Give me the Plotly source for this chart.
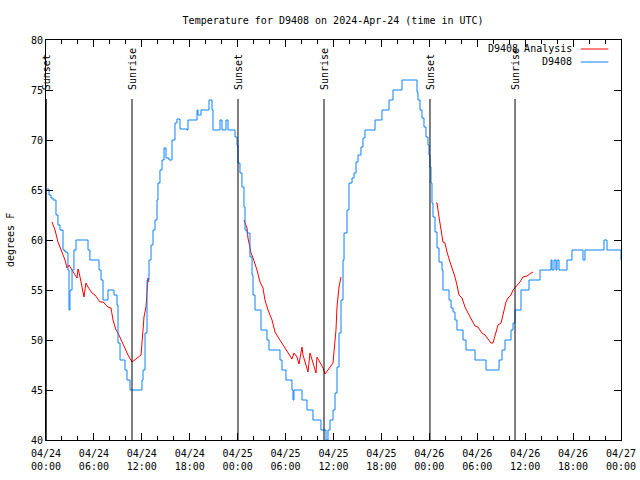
import pandas as pd
import plotly.graph_objects as go

BASE = pd.Timestamp("2024-04-24 00:00")

# D9408 observations: hours since 2024-04-24 00:00 UTC, temperature (F)
obs_hours = [0.13, 0.38, 0.63, 0.88, 1.25, 1.5, 1.75, 2.13, 2.38, 2.63, 2.75, 2.88, 3.0, 3.26, 3.5, 3.76,
             5.0, 5.26, 5.5, 6.39, 6.64, 6.89, 7.14, 7.51, 7.76, 8.26, 8.51, 8.89, 9.02, 9.27, 9.52, 9.89,
             10.14, 10.52, 11.77, 12.02, 12.15, 12.4, 12.65, 12.9, 13.15, 13.4, 13.65, 13.9, 14.02, 14.27,
             14.53, 14.78, 15.03, 15.4, 15.78, 16.15, 16.4, 16.78, 17.66, 17.78, 18.66, 18.91, 19.03, 19.41,
             20.16, 20.41, 20.79, 20.91, 21.54, 21.79, 22.04, 22.29, 22.54, 22.79, 23.42, 23.67, 23.92,
             24.04, 24.29, 24.54, 24.79, 24.92, 25.17, 25.54, 25.8, 25.92, 26.17, 26.8, 26.92, 27.42, 27.67,
             27.92, 29.05, 29.3, 29.55, 29.93, 30.05, 30.43, 30.8, 30.93, 31.05, 31.43, 31.93, 32.06, 32.56,
             32.68, 33.18, 33.43, 34.18, 34.43, 34.81, 35.06, 35.31, 35.56, 35.94, 36.19, 36.44, 36.69,
             36.94, 37.19, 37.32, 37.69, 37.94, 38.32, 38.57, 38.82, 39.07, 39.44, 39.69, 39.94, 40.95,
             41.2, 41.95, 42.07, 42.7, 42.95, 43.45, 44.2, 44.58, 46.21, 46.46, 46.58, 46.83, 47.08, 47.33,
             47.58, 47.83, 47.96, 48.08, 48.21, 48.33, 48.46, 48.71, 48.96, 49.21, 49.59, 49.71, 50.34,
             50.47, 50.72, 50.97, 51.21, 51.46, 51.97, 52.22, 52.59, 53.47, 53.72, 54.72, 55.1, 56.48,
             56.73, 57.1, 57.48, 57.98, 58.23, 58.48, 58.73, 59.23, 59.48, 60.36, 60.48, 61.61, 61.86,
             62.99, 63.24, 63.36, 63.61, 63.86, 63.99, 64.24, 64.99, 65.24, 65.86, 67.12, 67.24, 67.49,
             69.62, 69.87, 70.25, 71.63, 72.0]
obs_temp = [65.1, 64.5, 64.2, 64, 62.5, 61.5, 61, 59, 58.8, 58.7, 57, 53, 55, 57, 59, 60,
            60, 59, 58, 58, 57, 56, 54, 54, 55, 55, 54.5, 53.5, 49.7, 48, 48, 47,
            46, 45, 45, 46, 47, 50.7, 56, 58, 59.5, 61, 62, 64, 65.7, 67,
            68, 69.2, 68.2, 68, 70, 71.7, 72.1, 71.1, 71, 72, 72, 73, 72.5, 73,
            73, 74, 73, 71, 71, 72, 71, 71, 72, 71, 71, 70.3, 69.5,
            67.7, 66.7, 65.3, 63.3, 61, 60.7, 58.3, 56.5, 54.5, 53, 53, 51, 51, 50,
            49, 49, 48, 47, 47, 46, 46, 45, 44, 45, 45, 45, 44, 44,
            43, 43, 42, 42, 41, 41, 40, 41, 42, 43, 44.7, 47.3, 50.7,
            54, 58, 60.7, 63, 65.7, 66.2, 66.7, 67.8, 68.5, 69.3, 70.2, 71, 71,
            72, 72, 73, 73, 74, 75, 75, 76, 76, 74.8, 74, 73, 72.2, 71.3,
            70.3, 69.5, 68.5, 67.3, 65.7, 63.7, 62.3, 60.8, 59.2, 57.8, 57, 55, 55,
            54, 53.2, 52.8, 52, 51, 51, 50, 49, 49, 48, 48, 47, 47,
            48, 49, 50, 50, 51, 51.7, 53, 53, 55, 55, 56, 56, 57,
            57, 58, 57, 58, 57, 58, 57, 57, 58, 59, 59, 58, 59,
            59, 60, 59, 59, 58]

# D9408 Analysis: three segments (None = gap)
ana_hours = [0.75, 1.13, 1.5, 2.0, 2.38, 2.63, 2.88, 3.26, 3.63, 3.88, 4.01, 4.13, 4.51, 4.63, 4.76, 5.0,
             5.26, 5.76, 6.14, 6.76, 7.14, 7.76, 8.14, 8.39, 8.77, 9.02, 9.52, 9.89, 10.27, 10.77, 11.39,
             11.9, 12.15, 12.27, 12.52, 12.65, 12.77, 12.9, None,
             24.79, 25.17, 25.29, 25.67, 25.92, 26.42, 26.8, 27.17, 27.42, 27.8, 28.3, 28.68, 29.05, 29.68,
             30.18, 30.55, 30.8, 31.05, 31.43, 31.68, 32.06, 32.18, 32.56, 32.81, 33.06, 33.43, 33.81,
             33.93, 34.31, 34.69, 34.94, 35.44, 35.94, 36.06, 36.31, 36.44, 36.69, 36.94, None,
             48.84, 48.96, 49.21, 49.46, 49.71, 49.96, 50.21, 50.59, 50.97, 51.21, 51.46, 51.72, 52.09,
             52.47, 52.84, 53.34, 53.72, 54.09, 54.59, 54.97, 55.35, 55.72, 55.97, 56.35, 56.6, 56.98,
             57.23, 57.6, 57.85, 58.23, 58.48, 58.98, 59.35, 59.73, 60.23, 60.73, 60.98]
ana_temp = [61.8, 61, 59.8, 58.7, 58, 57.2, 57.5, 57, 56.5, 56.2, 57.1, 56.8, 55.3, 54.7, 54.3, 55.7,
            55.3, 54.7, 54.5, 53.8, 53.8, 53.3, 53.2, 52, 51, 50.7, 49.8, 49.2, 48.5, 47.8, 48.2,
            48.5, 51, 52.3, 53.3, 55, 56.2, 55.8, None,
            62, 61.2, 60.2, 58.7, 58.2, 57, 55.8, 55.2, 54, 53, 52, 50.8, 50.3, 49.5,
            49, 48.5, 48.1, 48.7, 48.3, 47.6, 49.3, 48.5, 47.5, 46.8, 48.7, 47.8, 46.7,
            48.3, 47.7, 47.2, 46.6, 47.2, 47.7, 48.8, 51, 53.3, 55.3, 56.3, None,
            63.7, 63.7, 62.3, 61.2, 59.8, 59.7, 58.8, 57.8, 57, 56.3, 55.5, 54.5, 54.2,
            53.3, 52.7, 52, 51.4, 51.3, 50.7, 50.5, 50.1, 49.7, 49.7, 50.7, 51.5, 51.7,
            52.7, 53.8, 54.2, 54.5, 55, 55.4, 55.8, 56.3, 56.4, 56.7, 56.8]

sun_labels = ["Sunset", "Sunrise", "Sunset", "Sunrise", "Sunset", "Sunrise"]
sun_hours = [0.03, 10.77, 24.04, 34.81, 48.08, 58.73]

series_names = ["D9408 Analysis", "D9408"]
series_colors = ["#ff0000", "#0a82ff"]

title_text = "Temperature for D9408 on 2024-Apr-24 (time in UTC)"
y_title = "degrees F"


def to_time(hours):
    return [None if h is None else BASE + pd.Timedelta(hours=h) for h in hours]


FONT = "DejaVu Sans Mono"
fig = go.Figure()
fig.add_trace(go.Scatter(x=to_time(ana_hours), y=ana_temp, mode="lines", name=series_names[0],
                         line=dict(color=series_colors[0], width=1), connectgaps=False))
fig.add_trace(go.Scatter(x=to_time(obs_hours), y=obs_temp, mode="lines", name=series_names[1],
                         line=dict(color=series_colors[1], width=1, shape="hv")))

for lab, h in zip(sun_labels, sun_hours):
    t = BASE + pd.Timedelta(hours=h)
    fig.add_shape(type="line", xref="x", yref="paper", x0=t, x1=t, y0=0, y1=0.8525,
                  line=dict(color="black", width=1))
    fig.add_annotation(x=t, xref="x", y=0.87, yref="paper", text=lab, textangle=-90,
                       showarrow=False, xanchor="center", yanchor="bottom",
                       font=dict(family=FONT, size=10, color="black"))

# manual legend (gnuplot style: text then sample line)
for i, (nm, col) in enumerate(zip(series_names, series_colors)):
    yy = 0.9775 - i * 0.0325
    fig.add_annotation(x=0.918, xref="paper", y=yy, yref="paper", text=nm, showarrow=False,
                       xanchor="right", yanchor="middle", font=dict(family=FONT, size=10, color="black"))
    fig.add_shape(type="line", xref="paper", yref="paper", x0=0.93, x1=0.978, y0=yy, y1=yy,
                  line=dict(color=col, width=1))

fig.add_annotation(x=-0.0626, xref="paper", y=0.5, yref="paper", text=y_title, textangle=-90,
                   showarrow=False, xanchor="center", yanchor="middle",
                   font=dict(family=FONT, size=10, color="black"))

fig.update_layout(
    width=640, height=480,
    margin=dict(l=46, r=19, t=40, b=40),
    paper_bgcolor="white", plot_bgcolor="white",
    showlegend=False,
    font=dict(family=FONT, size=10, color="black"),
    title=dict(text=title_text, x=0.5205, xanchor="center", y=0.958, yanchor="middle",
               font=dict(family=FONT, size=10, color="black")),
)
fig.update_xaxes(
    type="date", range=[BASE, BASE + pd.Timedelta(hours=72)],
    dtick=6 * 3600 * 1000, tick0=BASE, tickformat="%m/%d<br>%H:%M",
    ticks="inside", ticklen=7, tickcolor="black", tickwidth=1, ticklabelstandoff=4,
    minor=dict(dtick=2 * 3600 * 1000, ticks="inside", ticklen=4, tickcolor="black"),
    showline=True, linecolor="black", linewidth=1, mirror="ticks",
    showgrid=False, zeroline=False, automargin=False,
)
fig.update_yaxes(
    range=[40, 80], dtick=5, ticks="inside", ticklen=7, tickcolor="black", tickwidth=1,
    showline=True, linecolor="black", linewidth=1, mirror="ticks",
    showgrid=False, zeroline=False, automargin=False,
)

fig.write_html("out.html", config={"displayModeBar": False},
               post_script="document.body.style.margin='0';")
